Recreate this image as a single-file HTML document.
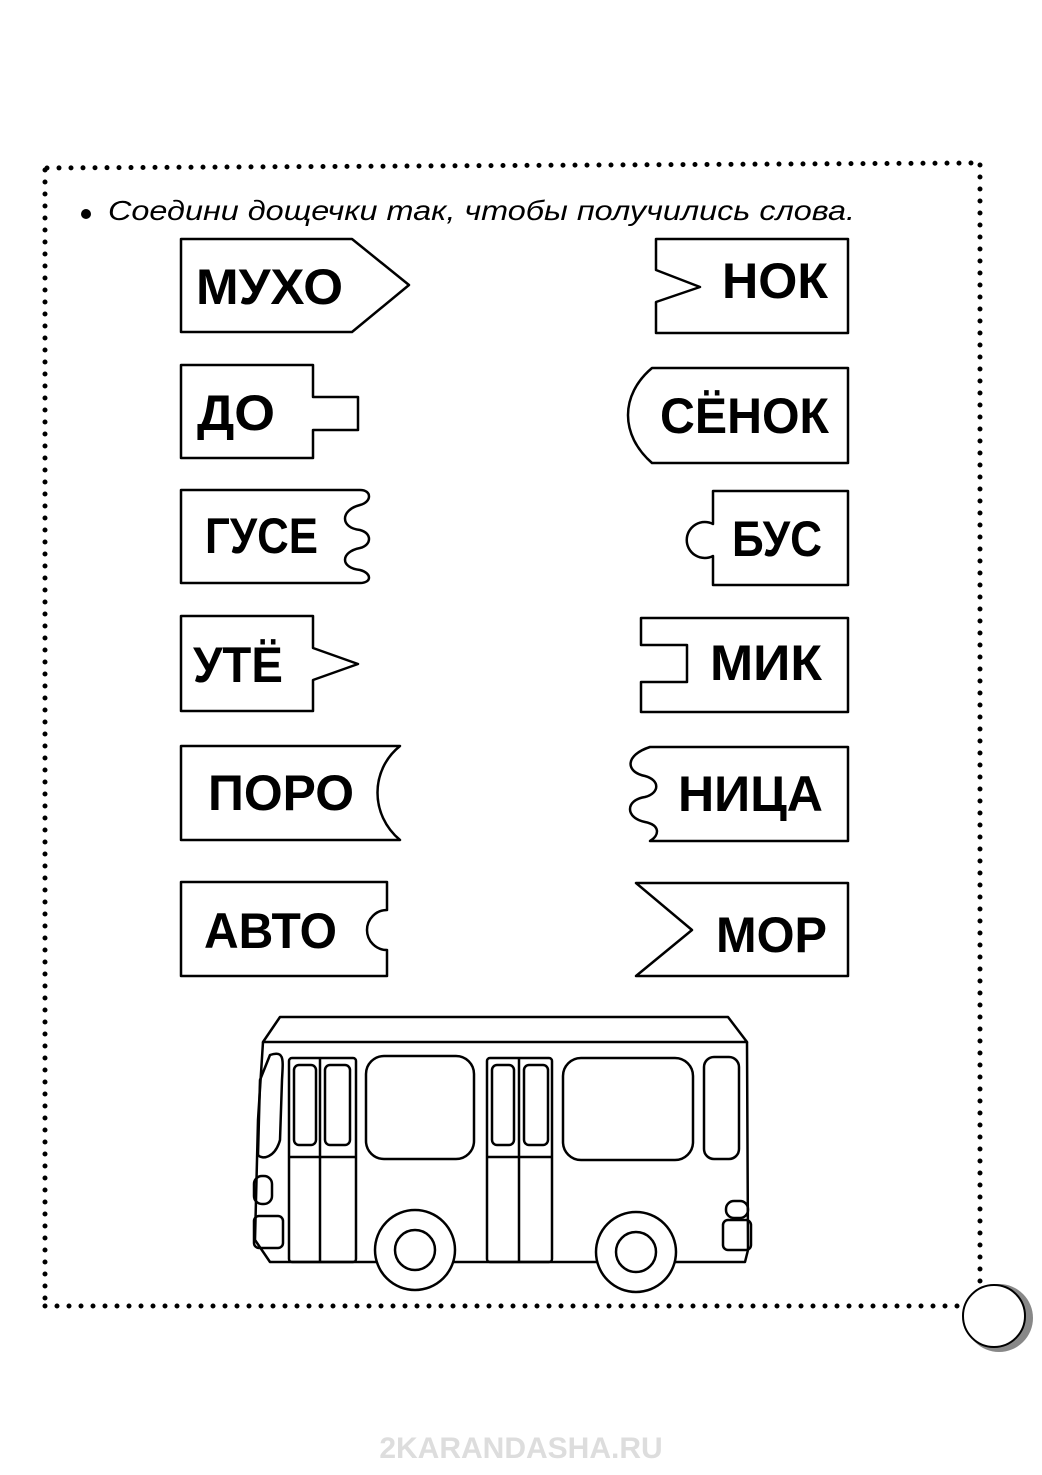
<!DOCTYPE html>
<html><head><meta charset="utf-8"><style>
body{margin:0;background:#fff}
svg{display:block}
text{font-family:"Liberation Sans",sans-serif}
.w{font-weight:bold;font-size:50px;fill:#000}
</style></head><body>
<svg width="1042" height="1475" viewBox="0 0 1042 1475" xmlns="http://www.w3.org/2000/svg">
<g stroke="#000" stroke-width="5" stroke-linecap="round" stroke-dasharray="0 12" fill="none">
<line x1="47" y1="168" x2="975" y2="163"/>
<line x1="45" y1="170" x2="45" y2="1306"/>
<line x1="45" y1="1306" x2="960" y2="1306"/>
<line x1="980" y1="165" x2="980" y2="1285"/>
</g>
<circle cx="999" cy="1318" r="34" fill="#888"/>
<circle cx="994" cy="1316" r="31" fill="#fff" stroke="#000" stroke-width="2"/>
<circle cx="86" cy="214" r="5" fill="#000"/>
<text x="108" y="220" font-size="28" font-style="italic" fill="#000" textLength="747" lengthAdjust="spacingAndGlyphs">Соедини дощечки так, чтобы получились слова.</text>
<g fill="none" stroke="#000" stroke-width="2.5" stroke-linejoin="round">
<path d="M181 239H352L409 285L352 332H181Z"/>
<path d="M181 365H313V397H358V430H313V458H181Z"/>
<path d="M181 490H360C372 490 372 502 360 505C340 510 340 528 360 530C372 533 372 545 360 548C340 552 340 568 360 570C372 573 372 583 360 583H181Z"/>
<path d="M181 616H313V648L358 664L313 680V711H181Z"/>
<path d="M181 746H400C370 770 370 815 400 840H181Z"/>
<path d="M181 882H387V910A20 20 0 0 0 387 950V976H181Z"/>
<path d="M656 239H848V333H656V302L700 287L656 270Z"/>
<path d="M652 368H848V463H652C620 435 620 395 652 368Z"/>
<path d="M713 491H848V585H713V556A18 18 0 1 1 713 524Z"/>
<path d="M641 618H848V712H641V682H687V645H641Z"/>
<path d="M650 747H848V841H650C660 835 660 825 645 822C625 818 625 800 645 797C660 793 660 780 645 776C625 772 625 755 650 747Z"/>
<path d="M636 883H848V976H636L692 930Z"/>
</g>
<text class="w" x="196" y="304" textLength="147" lengthAdjust="spacingAndGlyphs">МУХО</text>
<text class="w" x="197" y="430" textLength="78" lengthAdjust="spacingAndGlyphs">ДО</text>
<text class="w" x="205" y="553" textLength="113" lengthAdjust="spacingAndGlyphs">ГУСЕ</text>
<text class="w" x="193" y="682" textLength="90" lengthAdjust="spacingAndGlyphs">УТЁ</text>
<text class="w" x="208" y="810" textLength="146" lengthAdjust="spacingAndGlyphs">ПОРО</text>
<text class="w" x="204" y="948" textLength="133" lengthAdjust="spacingAndGlyphs">АВТО</text>
<text class="w" x="722" y="298" textLength="106" lengthAdjust="spacingAndGlyphs">НОК</text>
<text class="w" x="660" y="433" textLength="169" lengthAdjust="spacingAndGlyphs">СЁНОК</text>
<text class="w" x="732" y="556" textLength="90" lengthAdjust="spacingAndGlyphs">БУС</text>
<text class="w" x="710" y="680" textLength="112" lengthAdjust="spacingAndGlyphs">МИК</text>
<text class="w" x="678" y="811" textLength="145" lengthAdjust="spacingAndGlyphs">НИЦА</text>
<text class="w" x="716" y="952" textLength="111" lengthAdjust="spacingAndGlyphs">МОР</text>
<g fill="none" stroke="#000" stroke-width="2.5" stroke-linejoin="round">
<path d="M263 1042L280 1017H728L747 1042Z"/>
<path d="M263 1042L258 1120L255 1240L270 1262H745L748 1250L747 1042"/>
<path d="M270 1055C285 1050 283 1060 282 1080L280 1140C275 1158 262 1160 258 1155L260 1080Z"/>
<rect x="254" y="1176" width="18" height="28" rx="8"/>
<rect x="254" y="1216" width="29" height="32" rx="5"/>
<rect x="289" y="1058" width="67" height="204" rx="3"/>
<line x1="320" y1="1058" x2="320" y2="1262"/><line x1="289" y1="1157" x2="356" y2="1157"/>
<rect x="294" y="1065" width="22" height="80" rx="5"/><rect x="325" y="1065" width="25" height="80" rx="5"/>
<rect x="487" y="1058" width="65" height="204" rx="3"/>
<line x1="519" y1="1058" x2="519" y2="1262"/><line x1="487" y1="1157" x2="552" y2="1157"/>
<rect x="492" y="1065" width="22" height="80" rx="5"/><rect x="524" y="1065" width="24" height="80" rx="5"/>
<rect x="366" y="1056" width="108" height="103" rx="18"/>
<rect x="563" y="1058" width="130" height="102" rx="18"/>
<rect x="704" y="1057" width="35" height="102" rx="10"/>
<rect x="726" y="1201" width="22" height="17" rx="8"/>
<rect x="723" y="1220" width="28" height="30" rx="5"/>
<circle cx="415" cy="1250" r="40" fill="#fff"/><circle cx="415" cy="1250" r="20"/>
<circle cx="636" cy="1252" r="40" fill="#fff"/><circle cx="636" cy="1252" r="20"/>
</g>
<text x="521" y="1458" text-anchor="middle" font-size="30" font-weight="bold" fill="#ddd">2KARANDASHA.RU</text>
</svg>
</body></html>
